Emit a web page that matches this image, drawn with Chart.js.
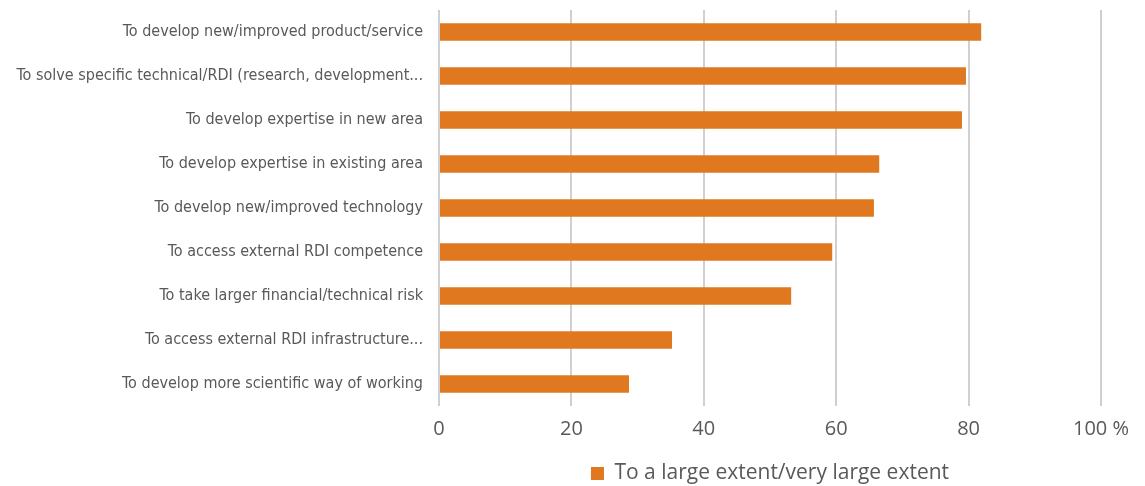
<!DOCTYPE html>
<html>
<head>
<meta charset="utf-8">
<script src="https://cdn.jsdelivr.net/npm/chart.js@4/dist/chart.umd.min.js"></script>
<style>
  html,body{margin:0;padding:0;background:#fff;}
  #wrap{width:1145px;height:486px;position:relative;}
</style>
</head>
<body>
<div id="wrap"><canvas id="c"></canvas></div>
<script>
const MOTIVES = [
  'To develop new/improved product/service',
  'To solve specific technical/RDI (research, development...',
  'To develop expertise in new area',
  'To develop expertise in existing area',
  'To develop new/improved technology',
  'To access external RDI competence',
  'To take larger financial/technical risk',
  'To access external RDI infrastructure...',
  'To develop more scientific way of working'
];
const LARGE_EXTENT = [81.9, 79.6, 79.0, 66.5, 65.7, 59.4, 53.2, 35.2, 28.7];
const SERIES_LABEL = 'To a large extent/very large extent';
const X_TICKS = [0, 20, 40, 60, 80, 100];

const ORANGE = '#E07820';
const INK = '#595959';
const NARROW = '"Liberation Sans Narrow", "DejaVu Sans Condensed", sans-serif';
const REGULAR = '"Open Sans", "Noto Sans", sans-serif';

new Chart(document.getElementById('c'), {
  type: 'bar',
  data: {
    labels: MOTIVES,
    datasets: [{
      label: SERIES_LABEL,
      data: LARGE_EXTENT,
      backgroundColor: ORANGE,
      borderWidth: 0,
      categoryPercentage: 1,
      barPercentage: 0.4
    }]
  },
  options: {
    indexAxis: 'y',
    responsive: true,
    maintainAspectRatio: false,
    animation: false,
    // legend sits close to the bottom edge
    layout: {padding: {top: 10, right: 44, bottom: -8, left: 0}},
    plugins: {
      tooltip: {enabled: false},
      legend: {
        position: 'bottom',
        fullSize: false,
        labels: {
          color: INK,
          font: {family: REGULAR, size: 21},
          boxWidth: 13,
          boxHeight: 13,
          padding: 11
        }
      }
    },
    scales: {
      x: {
        min: 0,
        max: 100,
        afterBuildTicks: s => { s.ticks = X_TICKS.map(v => ({value: v})); },
        grid: {color: '#d0d0d0', lineWidth: 2, drawTicks: false},
        border: {display: false},
        ticks: {
          color: INK,
          font: {family: REGULAR, size: 20},
          padding: 11,
          maxRotation: 0,
          callback: v => v === 100 ? '100 %' : v
        }
      },
      y: {
        grid: {display: false},
        border: {display: false},
        // fixed label column; no extra room above/below the category band
        afterFit: s => { s.width = 439; s.paddingTop = 0; s.paddingBottom = 0; },
        ticks: {
          color: INK,
          font: {family: NARROW, size: 16},
          padding: 8,
          autoSkip: false
        }
      }
    }
  }
});
</script>
</body>
</html>
